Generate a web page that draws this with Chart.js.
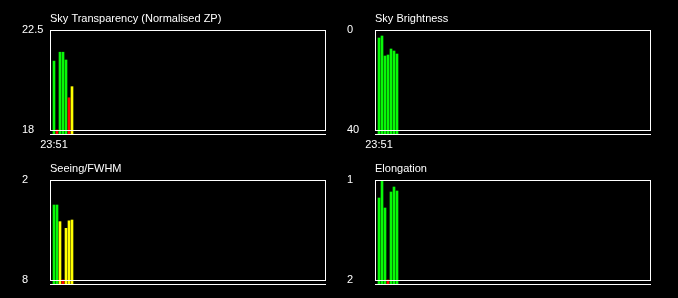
<!DOCTYPE html>
<html>
<head>
<meta charset="utf-8">
<script src="https://cdn.jsdelivr.net/npm/chart.js@4/dist/chart.umd.min.js"></script>
<style>
  html, body { margin: 0; padding: 0; background: #000; }
  #wrap { position: relative; width: 678px; height: 298px; overflow: hidden; }
  canvas { position: absolute; }
</style>
</head>
<body>
<div id="wrap">
  <canvas id="c1" width="339" height="150" style="left:0;top:0"></canvas>
  <canvas id="c2" width="353" height="150" style="left:325px;top:0"></canvas>
  <canvas id="c3" width="339" height="150" style="left:0;top:150px"></canvas>
  <canvas id="c4" width="353" height="150" style="left:325px;top:150px"></canvas>
</div>
<script>
// sample times (one bar per sample)
var times = ['23:51', '23:52', '23:53', '23:54', '23:55', '23:56', '23:57'];

// quality flags: g = good, y = marginal, r = bad
var transparency = [21.1, 18.0, 21.5, 21.5, 21.15, 19.45, 19.95];
var transparencyQ = ['g', 'r', 'g', 'g', 'g', 'r', 'y'];
var brightness = [3.2, 2.4, 10.4, 10.0, 7.6, 8.4, 9.6];
var brightnessQ = ['g', 'g', 'g', 'g', 'g', 'g', 'g'];
var seeing = [3.5, 3.5, 4.5, 8.0, 4.9, 4.45, 4.4];
var seeingQ = ['g', 'g', 'y', 'r', 'y', 'y', 'y'];
var elongation = [1.18, 1.0, 1.28, 2.0, 1.12, 1.07, 1.11];
var elongationQ = ['g', 'g', 'g', 'r', 'g', 'g', 'g'];

// y tick labels: [top, bottom]
var transparencyTicks = ['22.5', '18'];
var brightnessTicks = ['0', '40'];
var seeingTicks = ['2', '8'];
var elongationTicks = ['1', '2'];

var qColors = { g: '#08f808', y: '#ffff00', r: '#ff0000' };
var FONT = { family: "'Liberation Sans', Arial, sans-serif", size: 11, weight: 'normal' };

function mins(t) {
    var p = t.split(':');
    return parseInt(p[0], 10) * 60 + parseInt(p[1], 10);
}
var t0 = mins(times[0]);
var xs = times.map(function(t) { return (mins(t) - t0 + 1440) % 1440; });

// frame round the plot + base line under it
var framePlugin = {
    id: 'frame',
    afterDatasetsDraw: function(chart) {
        var ctx = chart.ctx, a = chart.chartArea, y = chart.scales.y;
        var lab = chart.options.plugins.frame;
        var top = Math.round(y.getPixelForValue(lab.top));
        var bot = Math.round(y.getPixelForValue(lab.bottom));
        ctx.save();
        ctx.strokeStyle = '#fff';
        ctx.lineWidth = 1;
        ctx.strokeRect(Math.round(a.left) + 0.5, top + 0.5, 275, bot - top);
        ctx.beginPath();
        ctx.moveTo(a.left, Math.round(a.bottom) - 0.5);
        ctx.lineTo(a.left + 276, Math.round(a.bottom) - 0.5);
        ctx.stroke();
        ctx.restore();
    }
};

function makePanel(id, title, values, quality, tickLabels, top, bottom, reverse, padRight, showTime) {
    var span = Math.abs(bottom - top);
    var floor = reverse ? bottom + span * 0.05 : bottom - span * 0.05;
    var ctx = document.getElementById(id).getContext('2d');
    return new Chart(ctx, {
        type: 'bar',
        data: {
            datasets: [{
                data: values.map(function(v, i) { return { x: xs[i], y: v }; }),
                backgroundColor: quality.map(function(q) { return qColors[q]; }),
                barThickness: 2,
                borderWidth: 0,
                base: floor
            }]
        },
        options: {
            responsive: false,
            animation: false,
            events: [],
            layout: { padding: { left: 22, right: padRight, top: 0, bottom: 0 } },
            plugins: {
                legend: { display: false },
                tooltip: { enabled: false },
                title: {
                    display: true,
                    text: title,
                    align: 'start',
                    fullSize: false,
                    color: '#fff',
                    font: FONT,
                    padding: { top: 12.2, bottom: 4.6 }
                },
                frame: { top: top, bottom: bottom }
            },
            scales: {
                x: {
                    type: 'linear',
                    offset: false,
                    min: -4 / 3,
                    max: 272 / 3,
                    grid: { display: false, drawTicks: false, tickLength: 0 },
                    border: { display: false },
                    ticks: {
                        display: showTime,
                        color: '#fff',
                        font: FONT,
                        padding: 3.7,
                        autoSkip: false,
                        maxRotation: 0,
                        callback: function() { return times[0]; }
                    },
                    afterBuildTicks: function(axis) { axis.ticks = [{ value: 0 }]; },
                    afterFit: function(axis) { axis.height = 15; }
                },
                y: {
                    type: 'linear',
                    reverse: reverse,
                    min: reverse ? top : floor,
                    max: reverse ? floor : top,
                    grid: { display: false, drawTicks: false },
                    border: { display: false },
                    ticks: {
                        color: '#fff',
                        font: FONT,
                        crossAlign: 'far',
                        autoSkip: false,
                        callback: function(value, index) { return tickLabels[index]; }
                    },
                    afterBuildTicks: function(axis) { axis.ticks = [{ value: top }, { value: bottom }]; },
                    afterFit: function(axis) { axis.width = 28; }
                }
            }
        },
        plugins: [framePlugin]
    });
}

makePanel('c1', 'Sky Transparency (Normalised ZP)', transparency, transparencyQ, transparencyTicks, 22.5, 18, false, 13, true);
makePanel('c2', 'Sky Brightness', brightness, brightnessQ, brightnessTicks, 0, 40, true, 27, true);
makePanel('c3', 'Seeing/FWHM', seeing, seeingQ, seeingTicks, 2, 8, true, 13, false);
makePanel('c4', 'Elongation', elongation, elongationQ, elongationTicks, 1, 2, true, 27, false);
</script>
</body>
</html>
